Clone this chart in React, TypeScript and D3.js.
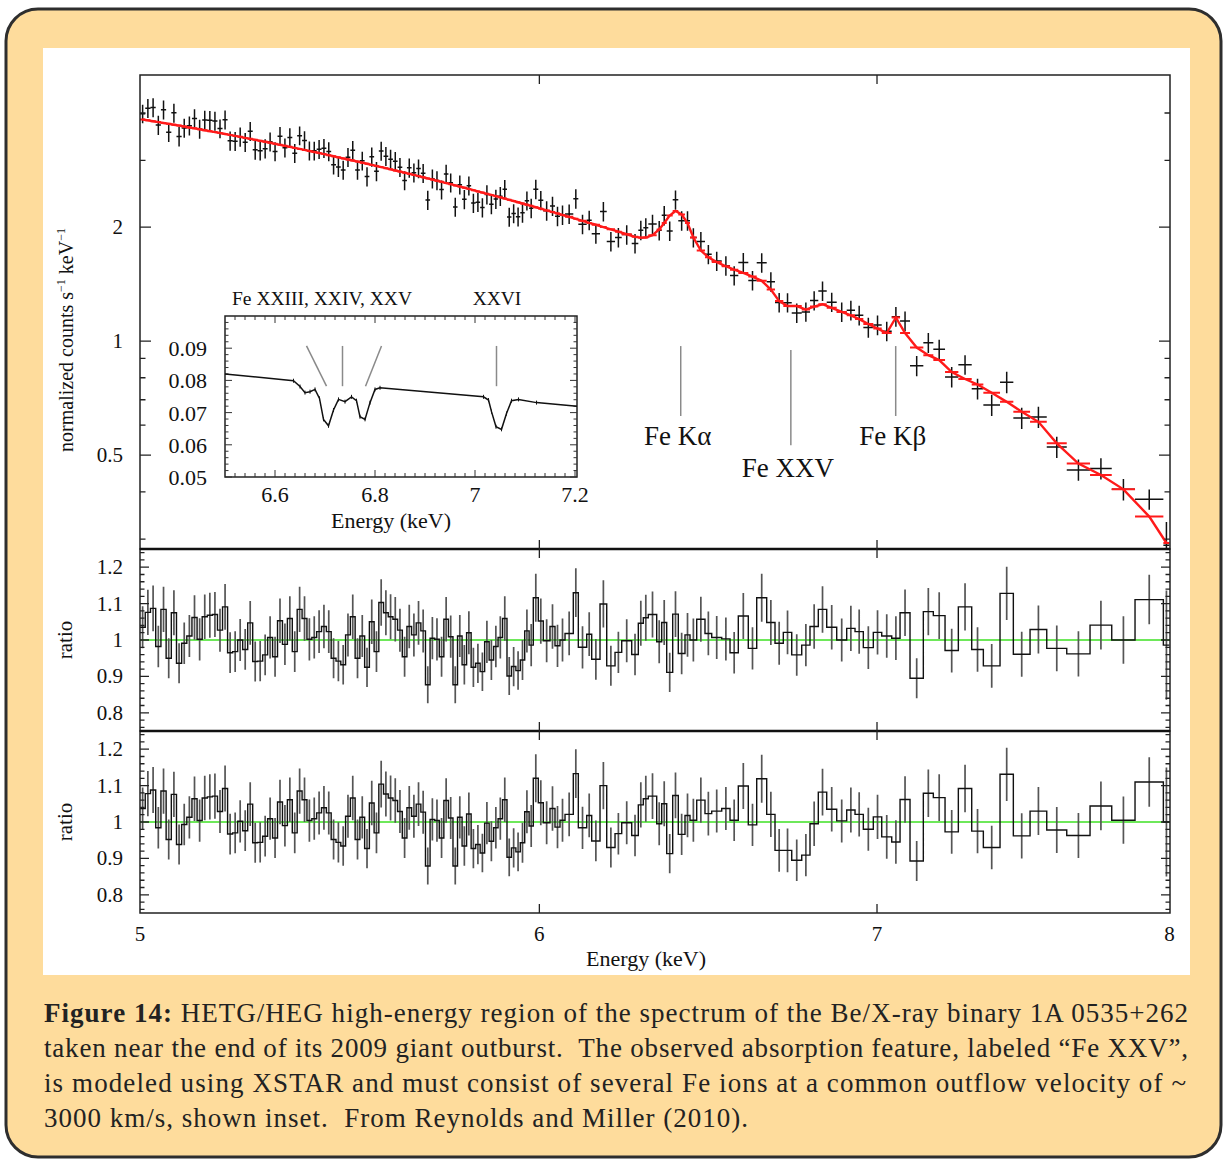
import React from 'react';
import * as d3 from 'd3';

// ---------- DATA ----------
const binEdges: number[] = [
  5.000, 5.012, 5.024, 5.036, 5.048, 5.060, 5.072, 5.084, 5.096, 5.108,
  5.120, 5.132, 5.144, 5.156, 5.168, 5.180, 5.192, 5.204, 5.216, 5.228,
  5.240, 5.252, 5.264, 5.276, 5.288, 5.300, 5.312, 5.324, 5.336, 5.348,
  5.360, 5.372, 5.384, 5.396, 5.408, 5.420, 5.432, 5.444, 5.456, 5.468,
  5.480, 5.492, 5.504, 5.516, 5.528, 5.540, 5.552, 5.564, 5.576, 5.588,
  5.600, 5.612, 5.624, 5.636, 5.648, 5.660, 5.672, 5.684, 5.696, 5.708,
  5.720, 5.732, 5.744, 5.756, 5.768, 5.780, 5.792, 5.804, 5.816, 5.828,
  5.840, 5.852, 5.864, 5.876, 5.888, 5.900, 5.912, 5.924, 5.936, 5.948,
  5.960, 5.972,
  5.9834, 5.9971, 6.0108, 6.0292, 6.0430, 6.0568, 6.0707, 6.0937, 6.1077, 6.1311,
  6.1451, 6.1685, 6.1874, 6.2109, 6.2299, 6.2584, 6.2773, 6.2916, 6.3060, 6.3302,
  6.3447, 6.3592, 6.3766, 6.3929, 6.4125, 6.4272, 6.4469, 6.4713, 6.4912, 6.5209,
  6.5457, 6.5705, 6.6005, 6.6259, 6.6562, 6.6815, 6.7069, 6.7327, 6.7635, 6.7891,
  6.8149, 6.8411, 6.8724, 6.9038,
  6.9301, 6.9564, 6.9882, 7.0151, 7.0472, 7.0740, 7.1063, 7.1496, 7.1823, 7.2208,
  7.2648, 7.3093, 7.3482, 7.4044, 7.4495, 7.5066, 7.5640, 7.6334, 7.7150, 7.7918,
  7.8751, 7.9776, 8.0,
];

const modelValues: number[] = [
  3.846, 3.826, 3.806, 3.785, 3.765, 3.745, 3.725, 3.705, 3.684, 3.664,
  3.644, 3.624, 3.603, 3.583, 3.562, 3.542, 3.521, 3.501, 3.480, 3.460,
  3.439, 3.419, 3.398, 3.378, 3.358, 3.338, 3.317, 3.297, 3.277, 3.256,
  3.236, 3.216, 3.196, 3.176, 3.156, 3.136, 3.116, 3.096, 3.076, 3.056,
  3.036, 3.016, 2.997, 2.977, 2.958, 2.938, 2.918, 2.899, 2.879, 2.860,
  2.840, 2.821, 2.802, 2.783, 2.764, 2.745, 2.726, 2.707, 2.688, 2.669,
  2.650, 2.632, 2.613, 2.595, 2.576, 2.558, 2.540, 2.521, 2.503, 2.484,
  2.466, 2.448, 2.431, 2.413, 2.396, 2.378, 2.360, 2.343, 2.325, 2.308,
  2.290,
  2.275, 2.256, 2.236, 2.213, 2.191, 2.172, 2.152, 2.128, 2.102, 2.077,
  2.051, 2.028, 2.000, 1.972, 1.944, 1.914, 1.884, 1.875, 1.876, 1.903,
  1.970, 2.049, 2.144, 2.204, 2.158, 2.049, 1.876, 1.734, 1.664, 1.616,
  1.576, 1.543, 1.513, 1.480, 1.442, 1.368, 1.275, 1.237, 1.237, 1.211,
  1.233, 1.251, 1.224, 1.194,
  1.169, 1.143, 1.109, 1.079, 1.050, 1.154, 1.050, 0.961, 0.918, 0.891,
  0.828, 0.794, 0.768, 0.730, 0.691, 0.651, 0.612, 0.537, 0.475, 0.443,
  0.406, 0.344, 0.293,
];

const countValues: number[] = [
  3.981, 4.117, 4.137, 3.717, 4.081, 3.558, 4.004, 3.468, 3.651, 3.704,
  3.870, 3.631, 3.834, 3.827, 3.811, 3.638, 3.841, 3.378, 3.369, 3.460,
  3.350, 3.580, 3.198, 3.182, 3.220, 3.361, 3.164, 3.472, 3.238, 3.448,
  3.132, 3.486, 3.385, 3.182, 3.178, 3.208, 3.231, 3.167, 2.922, 2.879,
  2.830, 3.058, 3.189, 2.828, 2.991, 2.718, 3.064, 2.806, 3.176, 3.075,
  3.022, 2.982, 2.878, 2.655, 2.866, 2.783, 2.854, 2.775, 2.357, 2.682,
  2.655, 2.511, 2.762, 2.618, 2.259, 2.586, 2.367, 2.571, 2.315, 2.325,
  2.251, 2.436, 2.297, 2.370, 2.413, 2.518, 2.126, 2.172, 2.130, 2.181,
  2.347,
  2.243, 2.518, 2.352, 2.209, 2.272, 2.137, 2.152, 2.166, 2.375, 2.035,
  2.084, 1.921, 2.198, 1.832, 1.878, 1.910, 1.809, 1.961, 1.990, 2.036,
  1.960, 2.147, 1.953, 2.360, 2.078, 2.078, 1.876, 1.833, 1.694, 1.627,
  1.581, 1.489, 1.613, 1.446, 1.609, 1.434, 1.264, 1.263, 1.186, 1.194,
  1.279, 1.356, 1.267, 1.194,
  1.206, 1.169, 1.086, 1.102, 1.062, 1.160, 1.129, 0.860, 0.990, 0.951,
  0.804, 0.866, 0.748, 0.678, 0.779, 0.626, 0.630, 0.525, 0.457, 0.461,
  0.406, 0.382, 0.289,
];

const ratioModel1: number[] = [
  1.035, 1.076, 1.087, 0.982, 1.084, 0.950, 1.075, 0.936, 0.991, 1.011,
  1.062, 1.002, 1.064, 1.068, 1.070, 1.027, 1.091, 0.965, 0.968, 1.000,
  0.974, 1.047, 0.941, 0.942, 0.959, 1.007, 0.954, 1.053, 0.988, 1.059,
  0.968, 1.084, 1.059, 1.002, 1.007, 1.023, 1.037, 1.023, 0.950, 0.942,
  0.932, 1.014, 1.064, 0.950, 1.011, 0.925, 1.050, 0.968, 1.103, 1.075,
  1.064, 1.057, 1.027, 0.954, 1.037, 1.014, 1.047, 1.025, 0.877, 1.005,
  1.002, 0.954, 1.057, 1.009, 0.877, 1.011, 0.932, 1.020, 0.925, 0.936,
  0.913, 0.995, 0.945, 0.982, 1.007, 1.059, 0.901, 0.927, 0.916, 0.945,
  1.025,
  0.986, 1.116, 1.052, 0.998, 1.037, 0.984, 1.000, 1.018, 1.130, 0.980,
  1.016, 0.947, 1.099, 0.929, 0.966, 0.998, 0.960, 1.046, 1.061, 1.070,
  0.995, 1.048, 0.911, 1.071, 0.963, 1.014, 1.000, 1.057, 1.018, 1.007,
  1.003, 0.965, 1.066, 0.977, 1.116, 1.048, 0.991, 1.021, 0.959, 0.986,
  1.037, 1.084, 1.035, 1.000,
  1.032, 1.023, 0.979, 1.021, 1.011, 1.005, 1.075, 0.895, 1.078, 1.067,
  0.971, 1.091, 0.974, 0.929, 1.128, 0.961, 1.029, 0.977, 0.962, 1.041,
  1.000, 1.111, 0.986,
];

const ratioModel2: number[] = [
  1.037, 1.078, 1.088, 0.984, 1.085, 0.952, 1.076, 0.938, 0.993, 1.013,
  1.064, 1.004, 1.066, 1.069, 1.071, 1.029, 1.092, 0.967, 0.970, 1.002,
  0.976, 1.049, 0.943, 0.944, 0.961, 1.009, 0.956, 1.055, 0.990, 1.061,
  0.970, 1.085, 1.061, 1.004, 1.009, 1.025, 1.039, 1.025, 0.952, 0.944,
  0.934, 1.016, 1.066, 0.952, 1.013, 0.927, 1.052, 0.970, 1.104, 1.077,
  1.066, 1.059, 1.029, 0.956, 1.039, 1.016, 1.049, 1.027, 0.879, 1.007,
  1.004, 0.956, 1.059, 1.011, 0.879, 1.013, 0.934, 1.022, 0.927, 0.938,
  0.915, 0.997, 0.947, 0.984, 1.009, 1.061, 0.903, 0.929, 0.918, 0.943,
  1.028,
  0.989, 1.120, 1.053, 0.998, 1.037, 0.986, 1.005, 1.021, 1.133, 0.984,
  1.018, 0.948, 1.100, 0.930, 0.968, 0.998, 0.963, 1.047, 1.064, 1.071,
  0.995, 1.050, 0.913, 1.073, 0.966, 1.018, 1.005, 1.060, 1.023, 1.030,
  1.037, 1.005, 1.099, 0.992, 1.119, 1.021, 0.922, 0.922, 0.895, 0.909,
  0.995, 1.082, 1.035, 1.003,
  1.033, 1.021, 0.980, 1.014, 0.959, 0.945, 1.062, 0.893, 1.079, 1.067,
  0.973, 1.092, 0.975, 0.930, 1.131, 0.962, 1.030, 0.978, 0.963, 1.044,
  1.005, 1.110, 1.000,
];

const ratioErrors: number[] = [
  0.058, 0.062, 0.063, 0.057, 0.062, 0.055, 0.062, 0.055, 0.057, 0.058,
  0.061, 0.058, 0.061, 0.062, 0.062, 0.059, 0.063, 0.056, 0.056, 0.058,
  0.056, 0.060, 0.055, 0.055, 0.056, 0.058, 0.055, 0.061, 0.057, 0.061,
  0.056, 0.062, 0.061, 0.058, 0.058, 0.059, 0.060, 0.059, 0.055, 0.055,
  0.054, 0.059, 0.061, 0.055, 0.058, 0.054, 0.061, 0.056, 0.064, 0.062,
  0.062, 0.061, 0.059, 0.055, 0.060, 0.059, 0.060, 0.059, 0.051, 0.058,
  0.058, 0.055, 0.061, 0.058, 0.051, 0.058, 0.054, 0.059, 0.054, 0.054,
  0.053, 0.058, 0.055, 0.057, 0.058, 0.061, 0.052, 0.054, 0.053, 0.055,
  0.059,
  0.058, 0.066, 0.062, 0.059, 0.061, 0.058, 0.059, 0.060, 0.067, 0.058,
  0.060, 0.056, 0.065, 0.055, 0.057, 0.059, 0.057, 0.062, 0.063, 0.063,
  0.059, 0.062, 0.054, 0.063, 0.057, 0.060, 0.059, 0.062, 0.060, 0.059,
  0.059, 0.057, 0.063, 0.058, 0.066, 0.062, 0.059, 0.060, 0.057, 0.058,
  0.061, 0.064, 0.061, 0.059,
  0.062, 0.061, 0.059, 0.061, 0.060, 0.060, 0.064, 0.055, 0.065, 0.064,
  0.060, 0.065, 0.061, 0.060, 0.073, 0.062, 0.066, 0.063, 0.062, 0.067,
  0.065, 0.068, 0.150,
];

// inset model (XSTAR absorption)
const insetEnergy: number[] = [
  6.500, 6.637, 6.650, 6.660, 6.670, 6.680, 6.689, 6.697, 6.707, 6.717,
  6.727, 6.740, 6.753, 6.763, 6.770, 6.780, 6.790, 6.800, 6.810, 7.017,
  7.027, 7.033, 7.042, 7.053, 7.063, 7.073, 7.087, 7.123, 7.204,
];
const insetFlux: number[] = [
  0.0820, 0.0799, 0.0781, 0.0762, 0.0765, 0.0772, 0.0744, 0.0679, 0.0659, 0.0708,
  0.0741, 0.0734, 0.0749, 0.0737, 0.0687, 0.0679, 0.0731, 0.0772, 0.0777, 0.0749,
  0.0739, 0.0703, 0.0656, 0.0648, 0.0697, 0.0737, 0.0741, 0.0731, 0.0720,
];
const insetMarkers = [
  { eTop: 6.663, eBottom: 6.703 },
  { eTop: 6.735, eBottom: 6.735 },
  { eTop: 6.813, eBottom: 6.781 },
  { eTop: 7.043, eBottom: 7.043 },
];
const insetMarkerFlux = [0.0782, 0.0907];

const xTickValues = [5, 6, 7, 8];
const topMajorTicks = [0.5, 1, 2];
const topMinorTicks = [0.3, 0.4, 0.6, 0.7, 0.8, 0.9, 3, 4];
const ratioMajorTicks = [0.8, 0.9, 1, 1.1, 1.2];
const ratioTickLabels = ['0.8', '0.9', '1', '1.1', '1.2'];
const insetXTicks = [6.6, 6.8, 7, 7.2];
const insetYTicks = [0.05, 0.06, 0.07, 0.08, 0.09];

const lineIds = [
  { label: 'Fe Kα', energy: 6.40, top: 0.970, bottom: 0.634, textDy: 29 },
  { label: 'Fe XXV', energy: 6.73, top: 0.947, bottom: 0.531, textDy: 32 },
  { label: 'Fe Kβ', energy: 7.06, top: 0.970, bottom: 0.634, textDy: 29 },
];

const captionLines = [
  'HETG/HEG high-energy region of the spectrum of the Be/X-ray binary 1A 0535+262',
  'taken near the end of its 2009 giant outburst.\u00A0 The observed absorption feature, labeled \u201CFe XXV\u201D,',
  'is modeled using XSTAR and must consist of several Fe ions at a common outflow velocity of ~',
  '3000 km/s, shown inset.\u00A0 From Reynolds and Miller (2010).',
];

const FONT = "'Liberation Serif', 'Times New Roman', Times, serif";

export default function App() {
  const L = 140, R = 1170;
  const x = d3.scaleLog().domain([5, 8]).range([140, 1169.5]);
  const yTop = d3.scaleLog().domain([0.2825, 5.04]).range([549, 75]);
  const yR1 = d3.scaleLinear().domain([0.75, 1.25]).range([731, 549]);
  const yR2 = d3.scaleLinear().domain([0.75, 1.25]).range([913, 731]);
  const ix = d3.scaleLinear().domain([6.5, 7.204]).range([225, 577]);
  const iy = d3.scaleLinear().domain([0.05, 0.1]).range([477, 316]);

  const f = (v: number) => v.toFixed(2);
  const N = Math.min(binEdges.length - 1, countValues.length, modelValues.length,
    ratioModel1.length, ratioModel2.length, ratioErrors.length);
  const bins = d3.range(N).map((i) => ({
    i, lo: binEdges[i], hi: binEdges[i + 1], c: (binEdges[i] + binEdges[i + 1]) / 2,
  }));

  const dataPath = bins.map((b) => {
    const v = countValues[b.i];
    const e = ratioErrors[b.i] * modelValues[b.i];
    return `M${f(x(b.lo))},${f(yTop(v))}H${f(x(b.hi))}M${f(x(b.c))},${f(yTop(Math.max(v - e, 0.05)))}V${f(yTop(v + e))}`;
  }).join('');
  const modelLine = d3.line<any>().x((b) => x(b.c)).y((b) => yTop(modelValues[b.i]))(bins) || '';
  const modelBars = bins.map((b) => `M${f(x(b.lo))},${f(yTop(modelValues[b.i]))}H${f(x(b.hi))}`).join('');

  const stepPath = (vals: number[], y: any) =>
    bins.map((b, k) => (k === 0 ? `M${f(x(b.lo))},${f(y(vals[b.i]))}` : `V${f(y(vals[b.i]))}`) + `H${f(x(b.hi))}`).join('');
  const errPath = (vals: number[], y: any) =>
    bins.map((b) => `M${f(x(b.c))},${f(y(vals[b.i] - ratioErrors[b.i]))}V${f(y(vals[b.i] + ratioErrors[b.i]))}`).join('');

  const yTicksPath = (vals: number[], y: any, len: number) =>
    vals.map((v) => `M${L},${f(y(v))}h${len}M${R},${f(y(v))}h${-len}`).join('');
  const xTicksPath = (top: number, bottom: number) =>
    [6, 7].map((v) => `M${f(x(v))},${top}v9M${f(x(v))},${bottom}v-9`).join('');
  const ratioMinor = d3.range(0.76, 1.245, 0.02).filter((v) => Math.abs(v * 10 - Math.round(v * 10)) > 0.01);

  const insetXMinor = d3.range(6.52, 7.2, 0.02).filter((v) => Math.abs(v * 5 - Math.round(v * 5)) > 0.01);
  const insetYMinor = d3.range(0.052, 0.1, 0.002).filter((v) => Math.abs(v * 100 - Math.round(v * 100)) > 0.01);
  const inL = 225, inR = 577, inT = 316, inB = 477;
  const insetTicks =
    insetXTicks.map((v) => `M${f(ix(v))},${inB}v-7M${f(ix(v))},${inT}v7`).join('') +
    insetXMinor.map((v) => `M${f(ix(v))},${inB}v-4M${f(ix(v))},${inT}v4`).join('') +
    insetYTicks.map((v) => `M${inL},${f(iy(v))}h7M${inR},${f(iy(v))}h-7`).join('') +
    insetYMinor.map((v) => `M${inL},${f(iy(v))}h3.5M${inR},${f(iy(v))}h-3.5`).join('');
  const insetLine = d3.line<number>().x((e) => ix(e)).y((_, k) => iy(insetFlux[k]))(insetEnergy) || '';
  const insetDots = insetEnergy.slice(1, -1).map((e, k) => {
    const yy = iy(insetFlux[k + 1]);
    return `M${f(ix(e))},${f(yy - 2)}V${f(yy + 2)}`;
  }).join('');

  return (
    <svg width={1225} height={1161} viewBox="0 0 1225 1161"
      style={{ position: 'absolute', left: 0, top: 0, background: '#ffffff', fontFamily: FONT }}>
      <defs>
        <clipPath id="clipTop"><rect x={L} y={75} width={R - L} height={474} /></clipPath>
        <clipPath id="clipR1"><rect x={L} y={549} width={R - L} height={182} /></clipPath>
        <clipPath id="clipR2"><rect x={L} y={731} width={R - L} height={182} /></clipPath>
      </defs>
      <rect x={6} y={9} width={1215} height={1148} rx={32} ry={32} fill="#fedc9c" stroke="#2e2e2e" strokeWidth={3} />
      <rect x={43} y={48} width={1147} height={927} fill="#ffffff" />

      {/* top panel */}
      <g clipPath="url(#clipTop)">
        <path d={dataPath} fill="none" stroke="#111" strokeWidth={1.5} />
        <path d={modelLine} fill="none" stroke="#ff1a1a" strokeWidth={2.4} />
        <path d={modelBars} fill="none" stroke="#ff1a1a" strokeWidth={2} />
      </g>
      {/* ratio panels */}
      <g clipPath="url(#clipR1)">
        <line x1={L} x2={R} y1={yR1(1)} y2={yR1(1)} stroke="#6ee85a" strokeWidth={2} />
        <path d={errPath(ratioModel1, yR1)} fill="none" stroke="#555" strokeWidth={1.7} />
        <path d={stepPath(ratioModel1, yR1)} fill="none" stroke="#111" strokeWidth={1.4} />
      </g>
      <g clipPath="url(#clipR2)">
        <line x1={L} x2={R} y1={yR2(1)} y2={yR2(1)} stroke="#6ee85a" strokeWidth={2} />
        <path d={errPath(ratioModel2, yR2)} fill="none" stroke="#555" strokeWidth={1.7} />
        <path d={stepPath(ratioModel2, yR2)} fill="none" stroke="#111" strokeWidth={1.4} />
      </g>

      {/* frames */}
      <rect x={L} y={75} width={R - L} height={474} fill="none" stroke="#222" strokeWidth={1.5} />
      <rect x={L} y={549} width={R - L} height={182} fill="none" stroke="#222" strokeWidth={1.5} />
      <rect x={L} y={731} width={R - L} height={182} fill="none" stroke="#222" strokeWidth={1.5} />
      <line x1={L} x2={R} y1={549} y2={549} stroke="#111" strokeWidth={2.5} />
      <line x1={L} x2={R} y1={731} y2={731} stroke="#111" strokeWidth={2.5} />

      {/* ticks */}
      <path d={yTicksPath(topMajorTicks, yTop, 11) + yTicksPath(topMinorTicks, yTop, 5.5)} stroke="#222" strokeWidth={1.3} fill="none" />
      <path d={yTicksPath(ratioMajorTicks, yR1, 9) + yTicksPath(ratioMinor, yR1, 4.5)} stroke="#222" strokeWidth={1.3} fill="none" />
      <path d={yTicksPath(ratioMajorTicks, yR2, 9) + yTicksPath(ratioMinor, yR2, 4.5)} stroke="#222" strokeWidth={1.3} fill="none" />
      <path d={xTicksPath(75, 549) + xTicksPath(549, 731) + xTicksPath(731, 913)} stroke="#222" strokeWidth={1.3} fill="none" />

      {/* tick labels */}
      <g fontSize={21} fill="#111" textAnchor="end">
        {topMajorTicks.map((v) => (
          <text key={'t' + v} x={123} y={yTop(v) + 7}>{String(v)}</text>
        ))}
        {ratioMajorTicks.map((v, k) => (
          <text key={'r1' + v} x={123} y={yR1(v) + 7}>{ratioTickLabels[k]}</text>
        ))}
        {ratioMajorTicks.map((v, k) => (
          <text key={'r2' + v} x={123} y={yR2(v) + 7}>{ratioTickLabels[k]}</text>
        ))}
      </g>
      <g fontSize={21} fill="#111" textAnchor="middle">
        {xTickValues.map((v) => (
          <text key={'x' + v} x={x(v)} y={941}>{String(v)}</text>
        ))}
      </g>
      <text x={646} y={966} textAnchor="middle" fontSize={22} fill="#111">Energy (keV)</text>
      <text transform="translate(73,340) rotate(-90)" textAnchor="middle" fontSize={20} fill="#111">
        normalized counts s<tspan dy={-8} fontSize={12}>−1</tspan><tspan dy={8}> keV</tspan><tspan dy={-8} fontSize={12}>−1</tspan>
      </text>
      <text transform={`translate(72,${yR1(1)}) rotate(-90)`} textAnchor="middle" fontSize={21} fill="#111">ratio</text>
      <text transform={`translate(72,${yR2(1)}) rotate(-90)`} textAnchor="middle" fontSize={21} fill="#111">ratio</text>

      {/* line identifications */}
      {lineIds.map((d) => (
        <g key={d.label}>
          <line x1={x(d.energy)} x2={x(d.energy)} y1={yTop(d.top)} y2={yTop(d.bottom)} stroke="#8a8a8a" strokeWidth={1.5} />
          <text x={x(d.energy) - 3} y={yTop(d.bottom) + d.textDy} textAnchor="middle" fontSize={27} fill="#111">{d.label}</text>
        </g>
      ))}

      {/* inset */}
      <rect x={inL} y={inT} width={inR - inL} height={inB - inT} fill="#fff" stroke="#222" strokeWidth={1.5} />
      <path d={insetTicks} stroke="#333" strokeWidth={1} fill="none" />
      {insetMarkers.map((m, k) => (
        <line key={'im' + k} x1={ix(m.eTop)} y1={iy(insetMarkerFlux[1])} x2={ix(m.eBottom)} y2={iy(insetMarkerFlux[0])}
          stroke="#8a8a8a" strokeWidth={1.5} />
      ))}
      <path d={insetLine} fill="none" stroke="#111" strokeWidth={1.5} />
      <path d={insetDots} fill="none" stroke="#111" strokeWidth={1} />
      <g fontSize={22} fill="#111" textAnchor="end">
        {insetYTicks.map((v) => (
          <text key={'iy' + v} x={207} y={iy(v) + 8}>{v.toFixed(2)}</text>
        ))}
      </g>
      <g fontSize={22} fill="#111" textAnchor="middle">
        {insetXTicks.map((v) => (
          <text key={'ix' + v} x={ix(v)} y={502}>{String(v)}</text>
        ))}
        <text x={391} y={528}>Energy (keV)</text>
      </g>
      <g fontSize={19.5} fill="#111" textAnchor="middle">
        <text x={322} y={305}>Fe XXIII, XXIV, XXV</text>
        <text x={497} y={305}>XXVI</text>
      </g>

      {/* caption */}
      <g fontSize={27} fill="#222">
        <text x={44} y={1022} textLength={1144} lengthAdjust="spacing">
          <tspan fontWeight="bold">Figure 14:</tspan> {captionLines[0]}
        </text>
        <text x={44} y={1057} textLength={1144} lengthAdjust="spacing">{captionLines[1]}</text>
        <text x={44} y={1092} textLength={1142} lengthAdjust="spacing">{captionLines[2]}</text>
        <text x={44} y={1127} textLength={704} lengthAdjust="spacing">{captionLines[3]}</text>
      </g>
    </svg>
  );
}
